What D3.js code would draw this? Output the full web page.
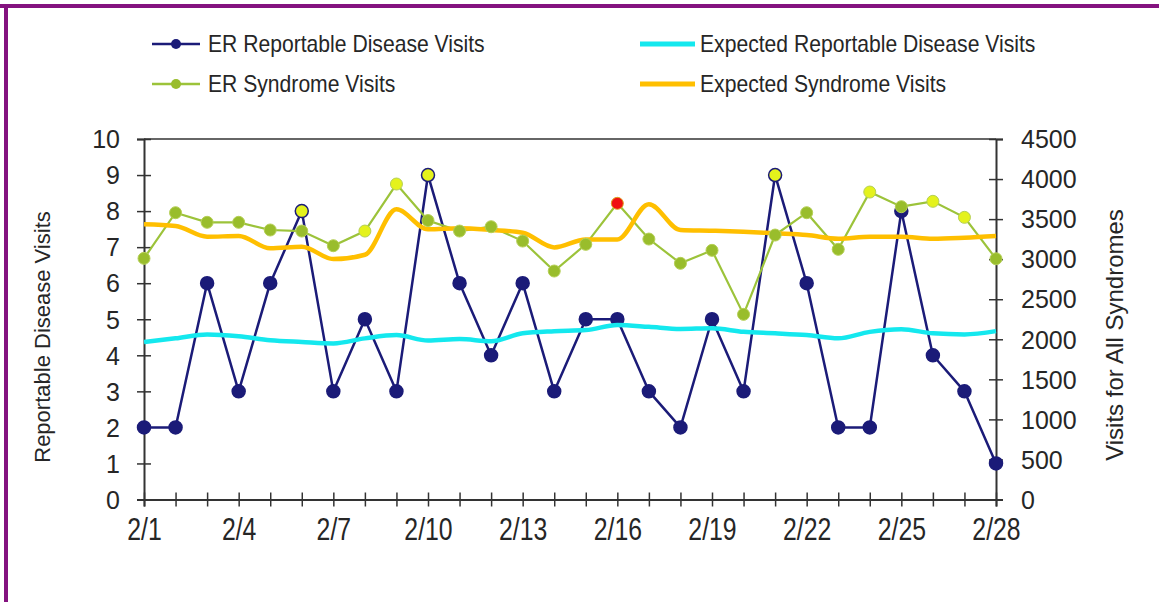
<!DOCTYPE html>
<html>
<head>
<meta charset="utf-8">
<script src="https://cdn.jsdelivr.net/npm/d3@7"></script>
<style>
  html, body { margin: 0; padding: 0; background: #fff; }
  svg { display: block; }
</style>
</head>
<body>
<svg id="chart" width="1159" height="602"></svg>
<script>
// February days
const days = ["2/1","2/2","2/3","2/4","2/5","2/6","2/7","2/8","2/9","2/10","2/11","2/12","2/13","2/14",
              "2/15","2/16","2/17","2/18","2/19","2/20","2/21","2/22","2/23","2/24","2/25","2/26","2/27","2/28"];
const labelledDays = ["2/1","2/4","2/7","2/10","2/13","2/16","2/19","2/22","2/25","2/28"];

// ER visits for reportable diseases (left axis)
const erReportable = [2,2,6,3,6,8,3,5,3,9,6,4,6,3,5,5,3,2,5,3,9,6,2,2,8,4,3,1];
// Expected reportable disease visits (left axis)
const expectedReportable = [4.37,4.47,4.58,4.53,4.42,4.37,4.33,4.47,4.56,4.41,4.45,4.39,4.61,4.67,
                            4.70,4.84,4.79,4.73,4.75,4.65,4.61,4.56,4.47,4.65,4.72,4.61,4.58,4.67];
// ER visits for all syndromes (right axis)
const erSyndrome = [3010,3580,3460,3460,3364,3351,3168,3351,3938,3482,3351,3405,3226,2852,
                    3185,3697,3251,2948,3110,2311,3301,3580,3123,3838,3655,3722,3522,3005];
// Expected syndrome visits (right axis)
const expectedSyndrome = [3435,3414,3280,3289,3135,3155,3001,3055,3622,3372,3385,3364,3330,3147,
                          3247,3247,3685,3364,3355,3342,3322,3301,3255,3280,3280,3255,3268,3289];

// Days flagged on each observed series
const reportableAlerts = ["2/6","2/10","2/21"];
const syndromeWarnings = ["2/8","2/9","2/24","2/26","2/27"];
const syndromeAlerts = ["2/16"];

const leftTicks = [0,1,2,3,4,5,6,7,8,9,10];
const rightTicks = [0,500,1000,1500,2000,2500,3000,3500,4000,4500];

const C = {
  navy: "#1b1b78",
  green: "#9cc33a",
  greenDot: "#99bd2c",
  cyan: "#14e8ee",
  orange: "#ffbf00",
  yellow: "#e4f21c",
  red: "#f01010",
  axis: "#333333",
  text: "#262626",
  frame: "#84127f"
};

const svg = d3.select("#chart");

// squeeze a text element horizontally to a fraction of its natural width
function condense(sel, factor) {
  sel.each(function () {
    const w = this.getComputedTextLength();
    if (w > 0) {
      d3.select(this).attr("textLength", w * factor).attr("lengthAdjust", "spacingAndGlyphs");
    }
  });
}

// outer frame (top and left edges)
svg.append("rect").attr("x", 0).attr("y", 4).attr("width", 1159).attr("height", 4).attr("fill", C.frame);
svg.append("rect").attr("x", 4).attr("y", 4).attr("width", 4).attr("height", 598).attr("fill", C.frame);

const x = d3.scalePoint().domain(days).range([144, 996]);
const yL = d3.scaleLinear().domain([0, 10]).range([499.5, 139]);
const yR = d3.scaleLinear().domain([0, 4500]).range([499.5, 139]);

const font = "'Liberation Sans', Arial, sans-serif";

// top edge of plot area
svg.append("line").attr("x1", 144).attr("x2", 996).attr("y1", yL(10)).attr("y2", yL(10))
  .attr("stroke", C.axis).attr("stroke-width", 1.5);

// left axis
const gL = svg.append("g").attr("transform", "translate(144,0)")
  .call(d3.axisLeft(yL).tickValues(leftTicks).tickSize(7).tickPadding(17).tickFormat(d3.format("d")));
// right axis
const gR = svg.append("g").attr("transform", "translate(996,0)")
  .call(d3.axisRight(yR).tickValues(rightTicks).tickSize(7).tickPadding(18).tickFormat(d3.format("d")));
// bottom axis
const gB = svg.append("g").attr("transform", "translate(0,499.5)")
  .call(d3.axisBottom(x).tickSize(7).tickFormat(d => labelledDays.includes(d) ? d : ""));

[gL, gR, gB].forEach(g => {
  g.select(".domain").attr("stroke", C.axis).attr("stroke-width", 2);
  g.selectAll(".tick line").attr("stroke", C.axis).attr("stroke-width", 1.5);
});
gL.selectAll(".tick line").attr("x1", 7).attr("x2", -7);
gR.selectAll(".tick line").attr("x1", -7).attr("x2", 7);
gB.selectAll(".tick line").attr("y1", -7).attr("y2", 7);
gL.selectAll(".tick text").attr("font-family", font).attr("font-size", 25).attr("fill", C.text).attr("dy", "0.35em");
gR.selectAll(".tick text").attr("font-family", font).attr("font-size", 25).attr("fill", C.text).attr("dy", "0.35em");
gB.selectAll(".tick text").attr("font-family", font).attr("font-size", 31).attr("fill", C.text)
  .attr("y", 40).attr("dy", 0).call(condense, 0.8);

// axis titles
svg.append("text").attr("transform", "translate(50,337) rotate(-90)").attr("text-anchor", "middle")
  .attr("font-family", font).attr("font-size", 22).attr("fill", C.text).text("Reportable Disease Visits");
svg.append("text").attr("transform", "translate(1123,335) rotate(-90)").attr("text-anchor", "middle")
  .attr("font-family", font).attr("font-size", 24).attr("fill", C.text).text("Visits for All Syndromes");

// ER reportable disease visits
const lineL = d3.line().x((d, i) => x(days[i])).y(d => yL(d));
const lineR = d3.line().x((d, i) => x(days[i])).y(d => yR(d));

svg.append("path").datum(erReportable).attr("d", lineL)
  .attr("fill", "none").attr("stroke", C.navy).attr("stroke-width", 2.5).attr("stroke-linejoin", "round");
svg.append("g").selectAll("circle").data(erReportable).join("circle")
  .attr("cx", (d, i) => x(days[i])).attr("cy", d => yL(d)).attr("r", 6.5)
  .attr("fill", (d, i) => reportableAlerts.includes(days[i]) ? C.yellow : C.navy)
  .attr("stroke", C.navy).attr("stroke-width", 1.5);

// expected reportable disease visits
svg.append("path").datum(expectedReportable).attr("d", lineL.curve(d3.curveMonotoneX))
  .attr("fill", "none").attr("stroke", C.cyan).attr("stroke-width", 4.5);

// ER syndrome visits (line)
svg.append("path").datum(erSyndrome).attr("d", lineR)
  .attr("fill", "none").attr("stroke", C.green).attr("stroke-width", 2.2);

// expected syndrome visits
svg.append("path").datum(expectedSyndrome).attr("d", lineR.curve(d3.curveMonotoneX))
  .attr("fill", "none").attr("stroke", C.orange).attr("stroke-width", 4.5).attr("stroke-linejoin", "round");

// ER syndrome visits (markers)
svg.append("g").selectAll("circle").data(erSyndrome).join("circle")
  .attr("cx", (d, i) => x(days[i])).attr("cy", d => yR(d)).attr("r", 6)
  .attr("fill", (d, i) => syndromeAlerts.includes(days[i]) ? C.red
        : syndromeWarnings.includes(days[i]) ? C.yellow : C.greenDot)
  .attr("stroke", (d, i) => syndromeAlerts.includes(days[i]) ? "#e0a020" : "#b5cf55")
  .attr("stroke-width", 1);

// legend
const legendItems = [
  { name: "ER Reportable Disease Visits", color: C.navy, width: 2.5, marker: true, x: 152, y: 44 },
  { name: "Expected Reportable Disease Visits", color: C.cyan, width: 5, marker: false, x: 640, y: 44 },
  { name: "ER Syndrome Visits", color: C.green, width: 2.5, marker: true, x: 152, y: 84 },
  { name: "Expected Syndrome Visits", color: C.orange, width: 5, marker: false, x: 640, y: 84 }
];
const lg = svg.append("g").selectAll("g").data(legendItems).join("g")
  .attr("transform", d => `translate(${d.x},${d.y})`);
lg.append("line").attr("x1", 0).attr("x2", d => d.marker ? 48 : 55).attr("y1", 0).attr("y2", 0)
  .attr("stroke", d => d.color).attr("stroke-width", d => d.width);
lg.filter(d => d.marker).append("circle").attr("cx", 24).attr("cy", 0).attr("r", 5)
  .attr("fill", d => d.color === C.green ? C.greenDot : d.color);
lg.append("text").attr("x", d => d.marker ? 56 : 60).attr("y", 0).attr("dy", "0.35em")
  .attr("font-family", font).attr("font-size", 24).attr("fill", C.text).text(d => d.name)
  .call(condense, 0.88);
</script>
</body>
</html>
